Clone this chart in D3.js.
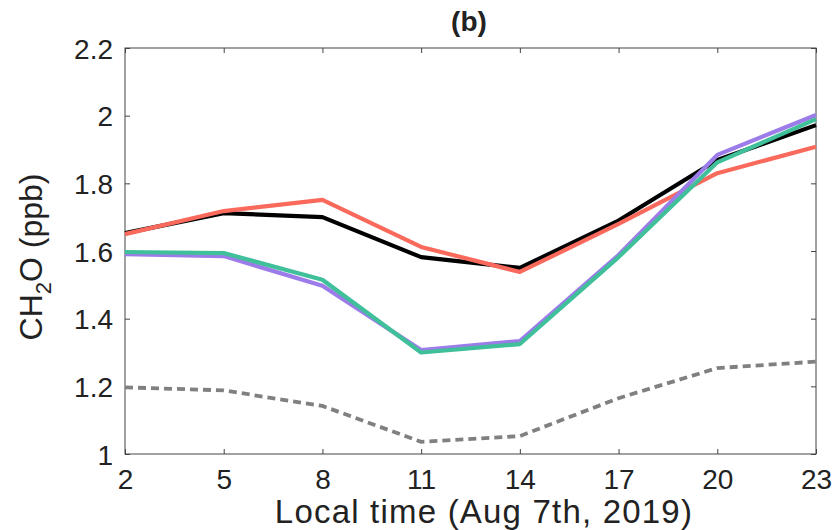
<!DOCTYPE html>
<html>
<head>
<meta charset="utf-8">
<script src="https://cdn.jsdelivr.net/npm/d3@7"></script>
<style>
  body { margin: 0; background: #fff; }
  text { font-family: "Liberation Sans", Arial, Helvetica, sans-serif; fill: #222; }
</style>
</head>
<body>
<div id="chart"></div>
<script>
// local hour of day
var hours = [2, 5, 8, 11, 14, 17, 20, 23];
var obs    = [1.653, 1.712, 1.700, 1.582, 1.550, 1.690, 1.869, 1.972];
var red    = [1.650, 1.718, 1.751, 1.612, 1.538, 1.680, 1.830, 1.908];
var purple = [1.591, 1.585, 1.497, 1.307, 1.334, 1.588, 1.884, 2.002];
var green  = [1.597, 1.594, 1.515, 1.300, 1.325, 1.582, 1.862, 1.990];
var grey   = [1.197, 1.188, 1.142, 1.036, 1.053, 1.165, 1.254, 1.273];
var yTicks = [1, 1.2, 1.4, 1.6, 1.8, 2, 2.2];

var margin = {top: 48, right: 20, bottom: 76, left: 125},
    width = 836 - margin.left - margin.right,
    height = 530 - margin.top - margin.bottom;

var svg = d3.select("#chart")
    .append("svg")
    .attr("width", 836)
    .attr("height", 530)
    .append("g")
    .attr("transform", "translate(" + margin.left + "," + margin.top + ")");

var x = d3.scaleLinear().domain([2, 23]).range([0, width]);
var y = d3.scaleLinear().domain([1, 2.2]).range([height, 0]);

// box
svg.append("rect")
    .attr("width", width).attr("height", height)
    .attr("fill", "none").attr("stroke", "#444").attr("stroke-width", 1);

// inward ticks on all four sides
var xb = svg.append("g").attr("transform", "translate(0," + height + ")")
    .call(d3.axisBottom(x).tickValues(hours).tickSizeInner(-5).tickSizeOuter(0).tickPadding(15));
var xt = svg.append("g")
    .call(d3.axisTop(x).tickValues(hours).tickSizeInner(-5).tickSizeOuter(0).tickFormat(""));
var yl = svg.append("g")
    .call(d3.axisLeft(y).tickValues(yTicks).tickSizeInner(-5).tickSizeOuter(0).tickPadding(12).tickFormat(d3.format("")));
var yr = svg.append("g").attr("transform", "translate(" + width + ",0)")
    .call(d3.axisRight(y).tickValues(yTicks).tickSizeInner(-5).tickSizeOuter(0).tickFormat(""));

[xb, xt, yl, yr].forEach(function(a) {
    a.select(".domain").remove();
    a.selectAll(".tick line").attr("stroke", "#444");
    a.selectAll(".tick text").attr("font-size", 28).attr("fill", "#222")
        .style("font-family", "'Liberation Sans', Arial, sans-serif");
});
yl.selectAll(".tick text").attr("dy", "0.36em");

var line = d3.line()
    .x(function(d, i) { return x(hours[i]); })
    .y(function(d) { return y(d); });

svg.append("path").datum(grey)
    .attr("fill", "none").attr("stroke", "#808080").attr("stroke-width", 3.8)
    .attr("stroke-dasharray", "8,5").attr("d", line);

var series = [
    {v: obs, c: "#000000"},
    {v: red, c: "#fa6a5c"},
    {v: purple, c: "#9c7ce8"},
    {v: green, c: "#40bf9b"}
];
series.forEach(function(s) {
    svg.append("path").datum(s.v)
        .attr("fill", "none").attr("stroke", s.c).attr("stroke-width", 4.2)
        .attr("stroke-linejoin", "round").attr("d", line);
});

// title
svg.append("text")
    .attr("x", 469 - margin.left).attr("y", 31 - margin.top)
    .attr("text-anchor", "middle")
    .attr("font-size", 28).attr("font-weight", "bold").attr("fill", "#111")
    .text("(b)");

// axis labels
svg.append("text")
    .attr("x", 484 - margin.left).attr("y", 523 - margin.top)
    .attr("text-anchor", "middle").attr("font-size", 33)
    .attr("letter-spacing", 1.2)
    .text("Local time (Aug 7th, 2019)");

var yt = svg.append("text")
    .attr("transform", "translate(" + (42 - margin.left) + "," + (257 - margin.top) + ") rotate(-90)")
    .attr("text-anchor", "middle").attr("font-size", 32);
yt.append("tspan").text("CH");
yt.append("tspan").attr("font-size", 22).attr("dy", 9).text("2");
yt.append("tspan").attr("dy", -9).text("O (ppb)");
</script>
</body>
</html>
